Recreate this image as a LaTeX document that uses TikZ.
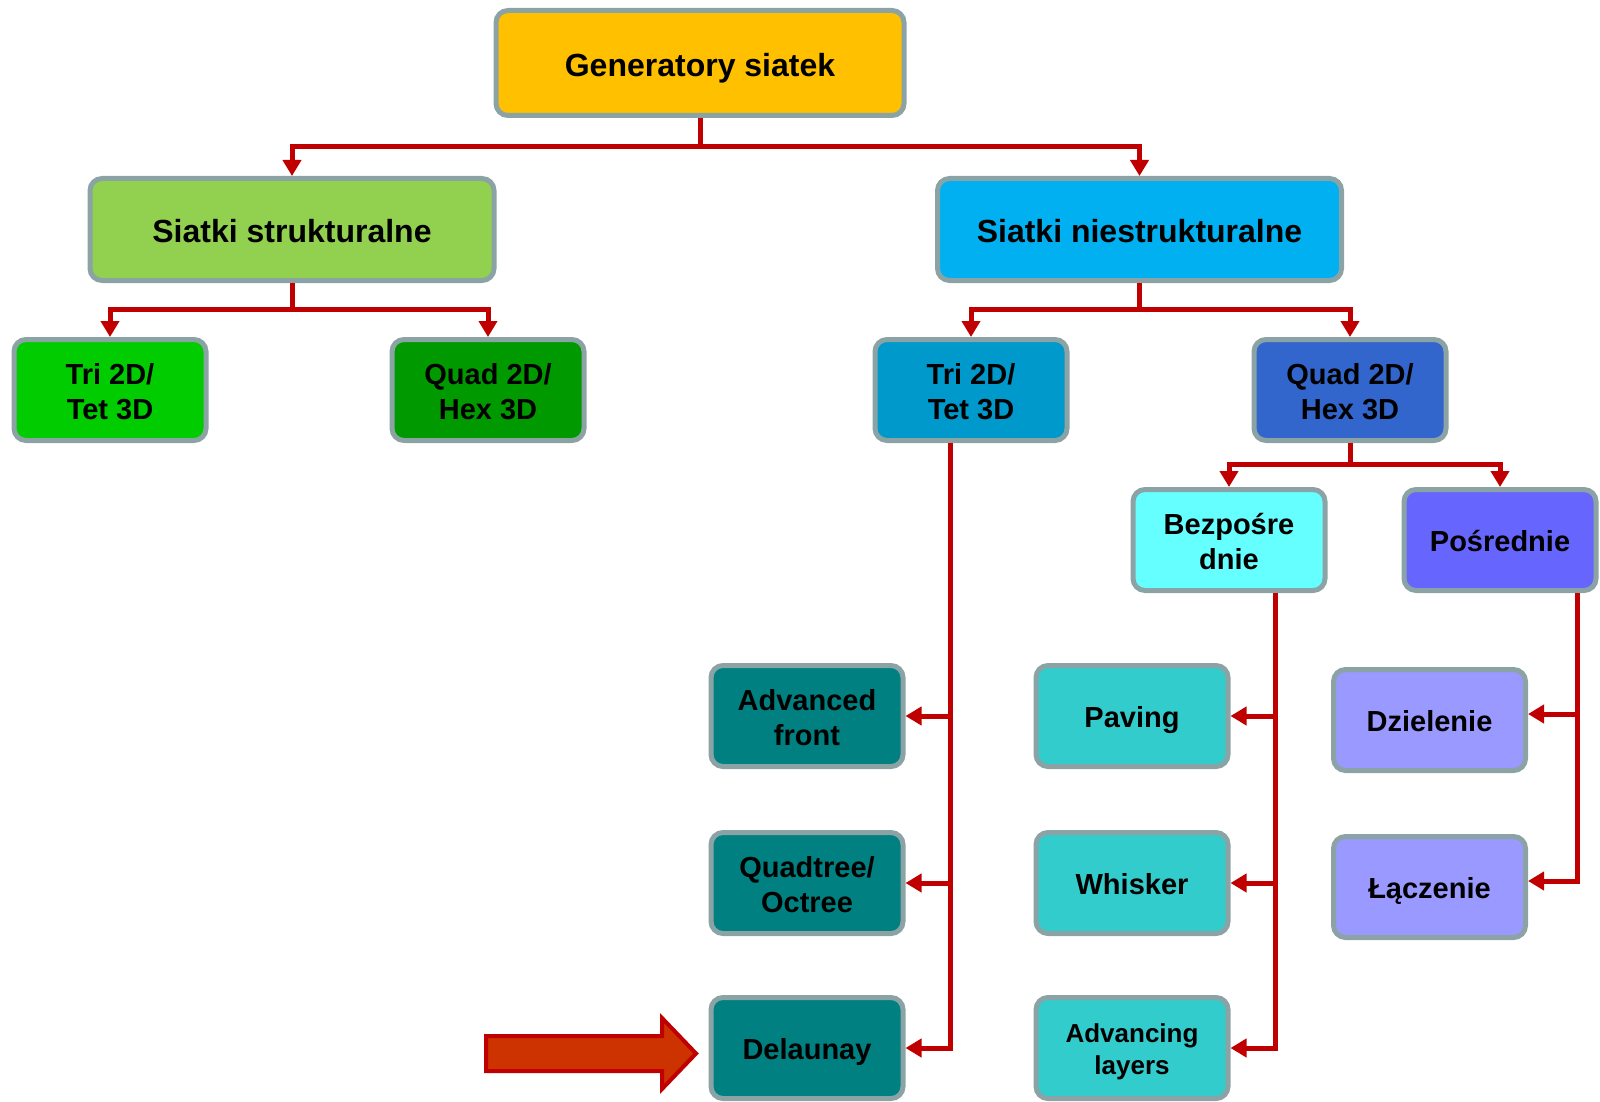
\documentclass[tikz,border=0pt]{standalone}
\usepackage{fontspec}
\setmainfont{Liberation Sans}
\usetikzlibrary{arrows.meta}
\definecolor{rim}{RGB}{140,163,166}
\definecolor{link}{RGB}{192,0,0}
\definecolor{cGen}{RGB}{255,192,0}
\definecolor{cStr}{RGB}{146,208,80}
\definecolor{cNie}{RGB}{0,176,240}
\definecolor{cTriA}{RGB}{0,204,0}
\definecolor{cQuadA}{RGB}{0,153,0}
\definecolor{cTriB}{RGB}{0,153,204}
\definecolor{cQuadB}{RGB}{51,102,204}
\definecolor{cBez}{RGB}{102,255,255}
\definecolor{cPos}{RGB}{102,102,255}
\definecolor{cTeal}{RGB}{0,128,128}
\definecolor{cAqua}{RGB}{51,204,204}
\definecolor{cLav}{RGB}{153,153,255}
\definecolor{pointerfill}{RGB}{204,51,0}
\tikzset{
  box/.style={draw=rim, line width=5pt, rounded corners=12pt, inner sep=0pt,
    align=center, minimum width=192pt, minimum height=101pt,
    font=\fontsize{29}{35}\selectfont\bfseries,
    % fixed struts so every label is centred on its line box, not its ink
    execute at begin node={\rule{0pt}{1.12em}},
    execute at end node={\rule[-0.3em]{0pt}{0pt}}},
  % labels of two lines: the strut is measured from the last baseline
  twoline/.style={execute at begin node={\rule{0pt}{\dimexpr1.12em+\baselineskip\relax}}},
  bigbox/.style={box, minimum width=404pt, minimum height=102pt,
    font=\fontsize{32}{38}\selectfont\bfseries},
  arr/.style={draw=link, line width=5pt, -{Triangle[width=18pt,length=16pt]}}
}
\begin{document}
\begin{tikzpicture}[x=1pt,y=-1pt]
\useasboundingbox (0,0) rectangle (1600,1102);

% root and first split
\node[bigbox, fill=cGen, minimum width=408pt, minimum height=105pt] (gen) at (700,63) {Generatory siatek};
\node[bigbox, fill=cStr] (str) at (292,229.5) {Siatki strukturalne};
\node[bigbox, fill=cNie] (nie) at (1139.5,229.5) {Siatki niestrukturalne};

% element types
\node[box, twoline, fill=cTriA] (triA) at (110,390) {Tri 2D/\\Tet 3D};
\node[box, twoline, fill=cQuadA] (quadA) at (488,390) {Quad 2D/\\Hex 3D};
\node[box, twoline, fill=cTriB] (triB) at (971,390) {Tri 2D/\\Tet 3D};
\node[box, twoline, fill=cQuadB] (quadB) at (1350,390) {Quad 2D/\\Hex 3D};

% quad methods
\node[box, twoline, fill=cBez] (bez) at (1229,540) {Bezpośre\\dnie};
\node[box, fill=cPos] (pos) at (1500,540) {Pośrednie};

% triangle algorithms
\node[box, twoline, fill=cTeal] (adv) at (807,716) {Advanced\\front};
\node[box, twoline, fill=cTeal] (qt) at (807,883) {Quadtree/\\Octree};
\node[box, fill=cTeal] (del) at (807,1048) {Delaunay};

% direct quad algorithms
\node[box, fill=cAqua] (pav) at (1132,716) {Paving};
\node[box, fill=cAqua] (whi) at (1132,883) {Whisker};
\node[box, twoline, fill=cAqua, font=\fontsize{26}{32}\selectfont\bfseries] (al) at (1132,1048) {Advancing\\layers};

% indirect quad algorithms
\node[box, fill=cLav] (dz) at (1429.5,720) {Dzielenie};
\node[box, fill=cLav] (lc) at (1429.5,887) {Łączenie};

% bus and spine positions
\coordinate (bus1) at (0,147);
\coordinate (bus2) at (0,309);
\coordinate (bus3) at (0,464);
\coordinate (sp1) at (950,0);
\coordinate (sp2) at (1275,0);
\coordinate (sp3) at (1577,0);

% tree connectors
\draw[arr] (gen.south) -- (gen.south |- bus1) -| (str.north);
\draw[arr] (gen.south) -- (gen.south |- bus1) -| (nie.north);
\draw[arr] (str.south) -- (str.south |- bus2) -| (triA.north);
\draw[arr] (str.south) -- (str.south |- bus2) -| (quadA.north);
\draw[arr] (nie.south) -- (nie.south |- bus2) -| (triB.north);
\draw[arr] (nie.south) -- (nie.south |- bus2) -| (quadB.north);
\draw[arr] (quadB.south) -- (quadB.south |- bus3) -| (bez.north);
\draw[arr] (quadB.south) -- (quadB.south |- bus3) -| (pos.north);

% side spines
\draw[arr] (triB.south -| sp1) |- (adv.east);
\draw[arr] (triB.south -| sp1) |- (qt.east);
\draw[arr] (triB.south -| sp1) |- (del.east);
\draw[arr] (bez.south -| sp2) |- (pav.east);
\draw[arr] (bez.south -| sp2) |- (whi.east);
\draw[arr] (bez.south -| sp2) |- (al.east);
\draw[arr] (pos.south -| sp3) |- ([yshift=6pt]dz.east);
\draw[arr] (pos.south -| sp3) |- ([yshift=6pt]lc.east);

% block pointer towards Delaunay
\draw[draw=link, fill=pointerfill, line width=4pt, line join=miter]
  (486,1036) -- (662,1036) -- (662,1018) -- (696,1053.5) -- (662,1089)
  -- (662,1071) -- (486,1071) -- cycle;
\end{tikzpicture}
\end{document}
